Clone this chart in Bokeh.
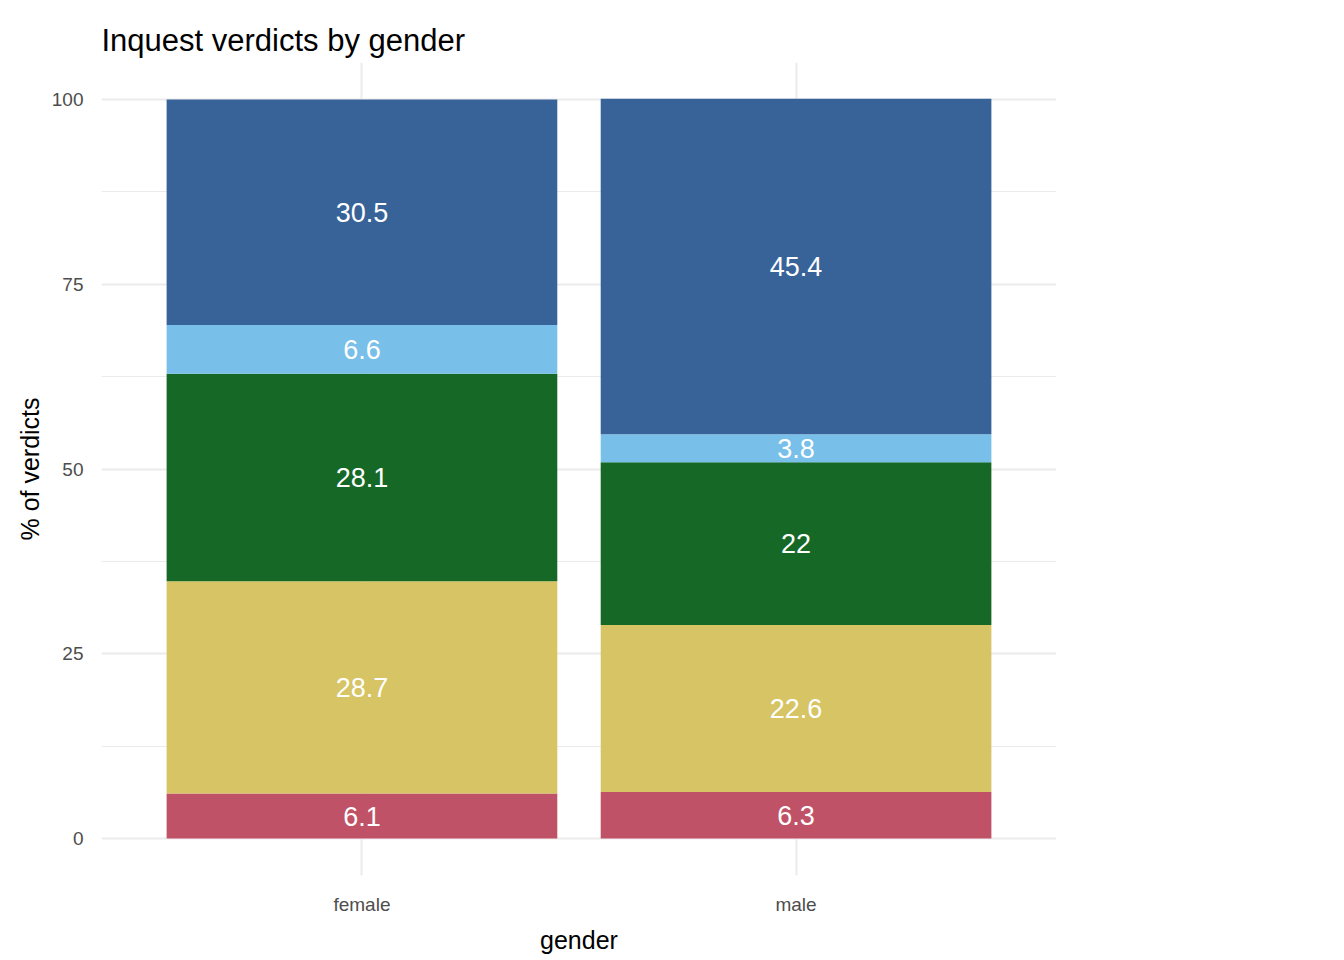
from bokeh.plotting import figure
from bokeh.models import Range1d, Legend, LegendItem, FixedTicker
from bokeh.core.properties import value
from bokeh.embed import file_html
from bokeh.resources import INLINE

genders = ["female", "male"]
verdicts = ["undetermined", "suicide", "natural causes", "homicide", "accidental"]
female_vals = [6.1, 28.7, 28.1, 6.6, 30.5]
male_vals = [6.3, 22.6, 22.0, 3.8, 45.4]
colors = {"accidental": "#386399", "homicide": "#78bfe9", "natural causes": "#166827",
          "suicide": "#d7c465", "undetermined": "#c05267"}
FONT = "Liberation Sans"

p = figure(output_backend="svg", toolbar_location=None, frame_width=955, frame_height=813,
           x_range=Range1d(0.4, 2.6), y_range=Range1d(-5, 105),
           min_border_left=101, min_border_top=62, min_border_bottom=60, min_border_right=270)
p.outline_line_color = None
p.background_fill_color = "white"
p.border_fill_color = "white"
p.title.text = "Inquest verdicts by gender"
p.title.text_font = FONT
p.title.text_font_size = "31px"
p.title.text_font_style = "normal"
p.title.text_color = "black"
p.title.offset = 0

renderers = {}
series = [female_vals, male_vals]
for gi, vals in enumerate(series):
    bottom = 0.0
    for v, val in zip(verdicts, vals):
        r = p.vbar(x=[gi + 1], width=0.9, bottom=[bottom], top=[bottom + val],
                   fill_color=colors[v], line_color=None)
        renderers.setdefault(v, r)
        p.text(x=[gi + 1], y=[bottom + val / 2], text=[f"{val:g}"], text_color="white",
               text_align="center", text_baseline="middle", text_font=value(FONT),
               text_font_size="27px")
        bottom += val

items = [LegendItem(label=v, renderers=[renderers[v]]) for v in reversed(verdicts)]
legend = Legend(items=items, title="verdict", title_text_font=FONT, title_text_font_size="24px",
                title_text_font_style="normal", label_text_font=FONT, label_text_font_size="20px",
                glyph_width=43, glyph_height=43, label_standoff=17, spacing=3,
                border_line_color=None, background_fill_alpha=0, location=(995, 265),
                padding=6, margin=0, label_height=43, title_standoff=12)
p.add_layout(legend, "center")

p.xaxis.ticker = FixedTicker(ticks=[1, 2])
p.xaxis.major_label_overrides = {1: "female", 2: "male"}
p.yaxis.ticker = FixedTicker(ticks=[0, 25, 50, 75, 100], minor_ticks=[12.5, 37.5, 62.5, 87.5])
p.xaxis.axis_label = "gender"
p.yaxis.axis_label = "% of verdicts"
for ax in (p.xaxis, p.yaxis):
    ax.axis_line_color = None
    ax.major_tick_line_color = None
    ax.minor_tick_line_color = None
    ax.major_label_text_font = FONT
    ax.major_label_text_font_size = "19px"
    ax.major_label_text_color = "#4d4d4d"
    ax.axis_label_text_font = FONT
    ax.axis_label_text_font_size = "25px"
    ax.axis_label_text_font_style = "normal"
    ax.axis_label_text_color = "black"
p.yaxis.major_label_standoff = 12
p.xaxis.major_label_standoff = 12
p.xaxis.axis_label_standoff = 8
p.grid.grid_line_color = "#ebebeb"
p.grid.grid_line_width = 2
p.ygrid.minor_grid_line_color = "#ebebeb"
p.ygrid.minor_grid_line_width = 1

open("out.html", "w").write(file_html(p, INLINE))
